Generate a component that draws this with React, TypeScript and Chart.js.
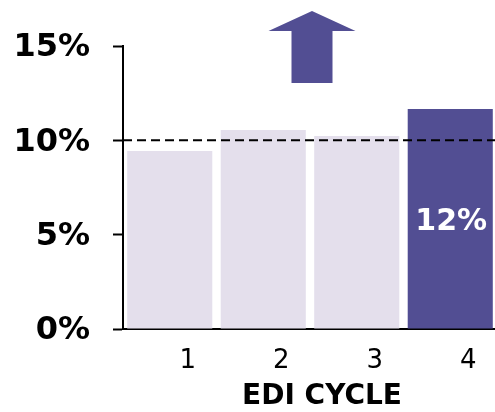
import React, { useEffect, useRef } from "react";
import { Chart, registerables } from "chart.js";

Chart.register(...registerables);

const categories = ["1", "2", "3", "4"];
const values = [9.43, 10.55, 10.23, 11.66];
const yTicks = [0, 5, 10, 15];
const targetLine = 10;
const highlightIndex = 3;
const xTitle = "EDI CYCLE";

const DARK = "#524E93";
const LIGHT = "#E4DFEC";
const FONT = "'DejaVu Sans', Verdana, sans-serif";

const overlayPlugin = {
  id: "overlay",
  afterDatasetsDraw(chart: any) {
    const { ctx, chartArea, scales } = chart;
    const y = scales.y.getPixelForValue(targetLine);
    ctx.save();
    ctx.strokeStyle = "#000";
    ctx.lineWidth = 2;
    ctx.setLineDash([9, 5]);
    ctx.beginPath();
    ctx.moveTo(chartArea.left, y);
    ctx.lineTo(chartArea.right, y);
    ctx.stroke();
    ctx.restore();

    // value label inside highlighted bar
    const meta = chart.getDatasetMeta(0);
    const bar = meta.data[highlightIndex];
    const v = values[highlightIndex];
    ctx.save();
    ctx.fillStyle = "#fff";
    ctx.font = `bold 30px ${FONT}`;
    ctx.textAlign = "center";
    ctx.textBaseline = "middle";
    ctx.fillText(`${Math.round(v)}%`, bar.x + 1, (bar.y + bar.base) / 2 + 3);
    ctx.restore();
  },
  afterDraw(chart: any) {
    const { ctx, chartArea, scales } = chart;
    // arrow
    const cx = (scales.x.getPixelForValue(1) + scales.x.getPixelForValue(2)) / 2 + 2;
    const top = chartArea.top;
    ctx.save();
    ctx.fillStyle = DARK;
    ctx.beginPath();
    ctx.moveTo(cx, top - 35);
    ctx.lineTo(cx + 43.5, top - 15);
    ctx.lineTo(cx + 20.5, top - 15);
    ctx.lineTo(cx + 20.5, top + 37);
    ctx.lineTo(cx - 20.5, top + 37);
    ctx.lineTo(cx - 20.5, top - 15);
    ctx.lineTo(cx - 43.5, top - 15);
    ctx.closePath();
    ctx.fill();
    ctx.restore();

    // x axis title
    ctx.save();
    ctx.fillStyle = "#000";
    ctx.font = `bold 28px ${FONT}`;
    ctx.textAlign = "center";
    ctx.textBaseline = "middle";
    ctx.fillText(xTitle, (chartArea.left + chartArea.right) / 2 + 12, chartArea.bottom + 68);
    ctx.restore();
  },
};

export default function App() {
  const ref = useRef<HTMLCanvasElement>(null);
  useEffect(() => {
    if (!ref.current) return;
    const chart = new Chart(ref.current, {
      type: "bar",
      data: {
        labels: categories,
        datasets: [
          {
            data: values,
            backgroundColor: values.map((_, i) => (i === highlightIndex ? DARK : LIGHT)),
            borderWidth: 0,
            categoryPercentage: 1,
            barPercentage: 0.91,
          },
        ],
      },
      options: {
        responsive: false,
        animation: false,
        layout: { padding: { top: 46, left: 10, right: 3, bottom: 37 } },
        plugins: { legend: { display: false }, tooltip: { enabled: false } },
        scales: {
          x: {
            grid: { display: false, drawTicks: false },
            border: { display: true, color: "#000", width: 2 },
            ticks: {
              color: "#000",
              font: { family: FONT, size: 26 },
              padding: 17,
              labelOffset: 18,
              maxRotation: 0,
            },
            afterFit: (s: any) => {
              s.height = 46;
            },
          },
          y: {
            min: 0,
            max: 15,
            afterBuildTicks: (s: any) => {
              s.ticks = yTicks.map((v) => ({ value: v }));
            },
            grid: {
              drawOnChartArea: false,
              drawTicks: true,
              tickLength: 10,
              tickColor: "#000",
              tickWidth: 2,
            },
            border: { display: true, color: "#000", width: 2 },
            ticks: {
              color: "#000",
              font: { family: FONT, size: 32, weight: "bold" },
              padding: 23,
              labelOffset: 2,
              callback: (v: any) => `${v}%`,
            },
            afterFit: (s: any) => {
              s.width = 113;
            },
          },
        },
      },
      plugins: [overlayPlugin],
    });
    return () => chart.destroy();
  }, []);

  return (
    <div style={{ position: "fixed", left: 0, top: 0, width: 495, height: 412, overflow: "hidden", background: "#fff" }}>
      <canvas ref={ref} width={500} height={412} style={{ display: "block" }} />
    </div>
  );
}
